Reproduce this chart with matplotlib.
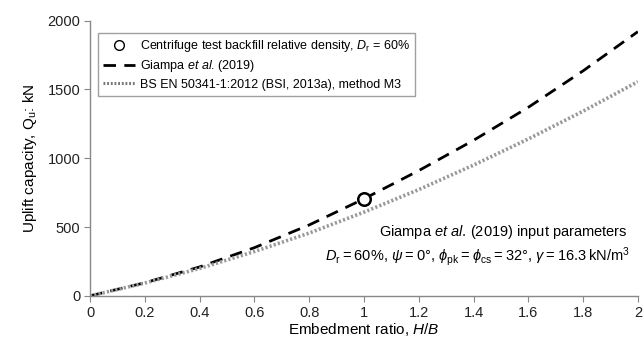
import numpy as np
import matplotlib
matplotlib.use("Agg")
import matplotlib.pyplot as plt
from matplotlib.lines import Line2D

plt.rcParams['font.family'] = ['Liberation Sans', 'DejaVu Sans']
plt.rcParams['mathtext.fontset'] = 'custom'
plt.rcParams['mathtext.rm'] = 'Liberation Sans'
plt.rcParams['mathtext.it'] = 'Liberation Sans:italic'

# embedment ratio H/B
hb = [0.0, 0.2, 0.4, 0.6, 0.8, 1.0, 1.2, 1.4, 1.6, 1.8, 2.0]
# Giampa et al. (2019) uplift capacity, kN
giampa = [0, 95, 210, 350, 515, 705, 910, 1130, 1370, 1635, 1920]
# BS EN 50341-1:2012 method M3, kN
bs_en = [0, 93, 199, 322, 456, 608, 772, 950, 1140, 1342, 1556]
# centrifuge test point
test_hb = [1.0]
test_q = [705]

fig, ax = plt.subplots(figsize=(6.43, 3.44), dpi=100)
fig.subplots_adjust(left=0.14, right=0.992, top=0.94, bottom=0.14)

ax.plot(hb, giampa, color='black', ls=(0, (4.5, 3)), lw=2.0)
ax.plot(hb, bs_en, color='#999999', ls=(0, (0.6, 0.6)), lw=2.6)
ax.plot(test_hb, test_q, 'o', ms=9, mfc='white', mec='black', mew=1.8)

ax.set_xlim(0, 2)
ax.set_ylim(0, 2000)
ax.set_xticks(np.arange(0, 2.01, 0.2))
ax.set_xticklabels(['0', '0.2', '0.4', '0.6', '0.8', '1', '1.2', '1.4', '1.6', '1.8', '2'])
ax.set_yticks([0, 500, 1000, 1500, 2000])
for s in ['top', 'right']:
    ax.spines[s].set_visible(False)
for s in ['left', 'bottom']:
    ax.spines[s].set_color('#888888')
    ax.spines[s].set_linewidth(1.0)
ax.tick_params(direction='out', length=4, color='#888888', labelsize=10.5,
               labelcolor='#222222', pad=3)

ax.set_xlabel('Embedment ratio, $\\it{H/B}$', fontsize=11, labelpad=1)
ax.set_ylabel('Uplift capacity, Q$_\\mathrm{u}$: kN', fontsize=11, labelpad=6)

handles = [
    Line2D([], [], marker='o', ls='none', ms=7, mfc='white', mec='black', mew=1.0),
    Line2D([], [], color='black', ls=(0, (4.5, 3)), lw=2.0),
    Line2D([], [], color='#777777', ls=(0, (0.6, 0.6)), lw=2.2),
]
labels = [
    'Centrifuge test backfill relative density, $\\it{D}_\\mathrm{r}$ = 60%',
    'Giampa $\\it{et\\ al}$. (2019)',
    'BS EN 50341-1:2012 (BSI, 2013a), method M3',
]
leg = ax.legend(handles, labels, loc='upper left', bbox_to_anchor=(0.014, 0.955),
                fontsize=9, frameon=True, fancybox=False, edgecolor='#888888',
                handlelength=2.6, handletextpad=0.4, borderpad=0.4,
                labelspacing=0.35, borderaxespad=0)
leg.get_frame().set_linewidth(1.0)

ax.text(0.982, 0.2, 'Giampa $\\it{et\\ al}$. (2019) input parameters',
        transform=ax.transAxes, ha='right', va='bottom', fontsize=10.5)
ax.text(0.985, 0.1,
        '$\\it{D}_\\mathrm{r}$\u2009=\u200960%, $\\psi$\u2009=\u20090°, '
        '$\\phi_\\mathrm{pk}$\u2009=\u2009$\\phi_\\mathrm{cs}$\u2009=\u200932°, '
        '$\\gamma$\u2009=\u200916.3\u2009kN/m$^3$',
        transform=ax.transAxes, ha='right', va='bottom', fontsize=10.5)

fig.savefig('out.png', dpi=100)
